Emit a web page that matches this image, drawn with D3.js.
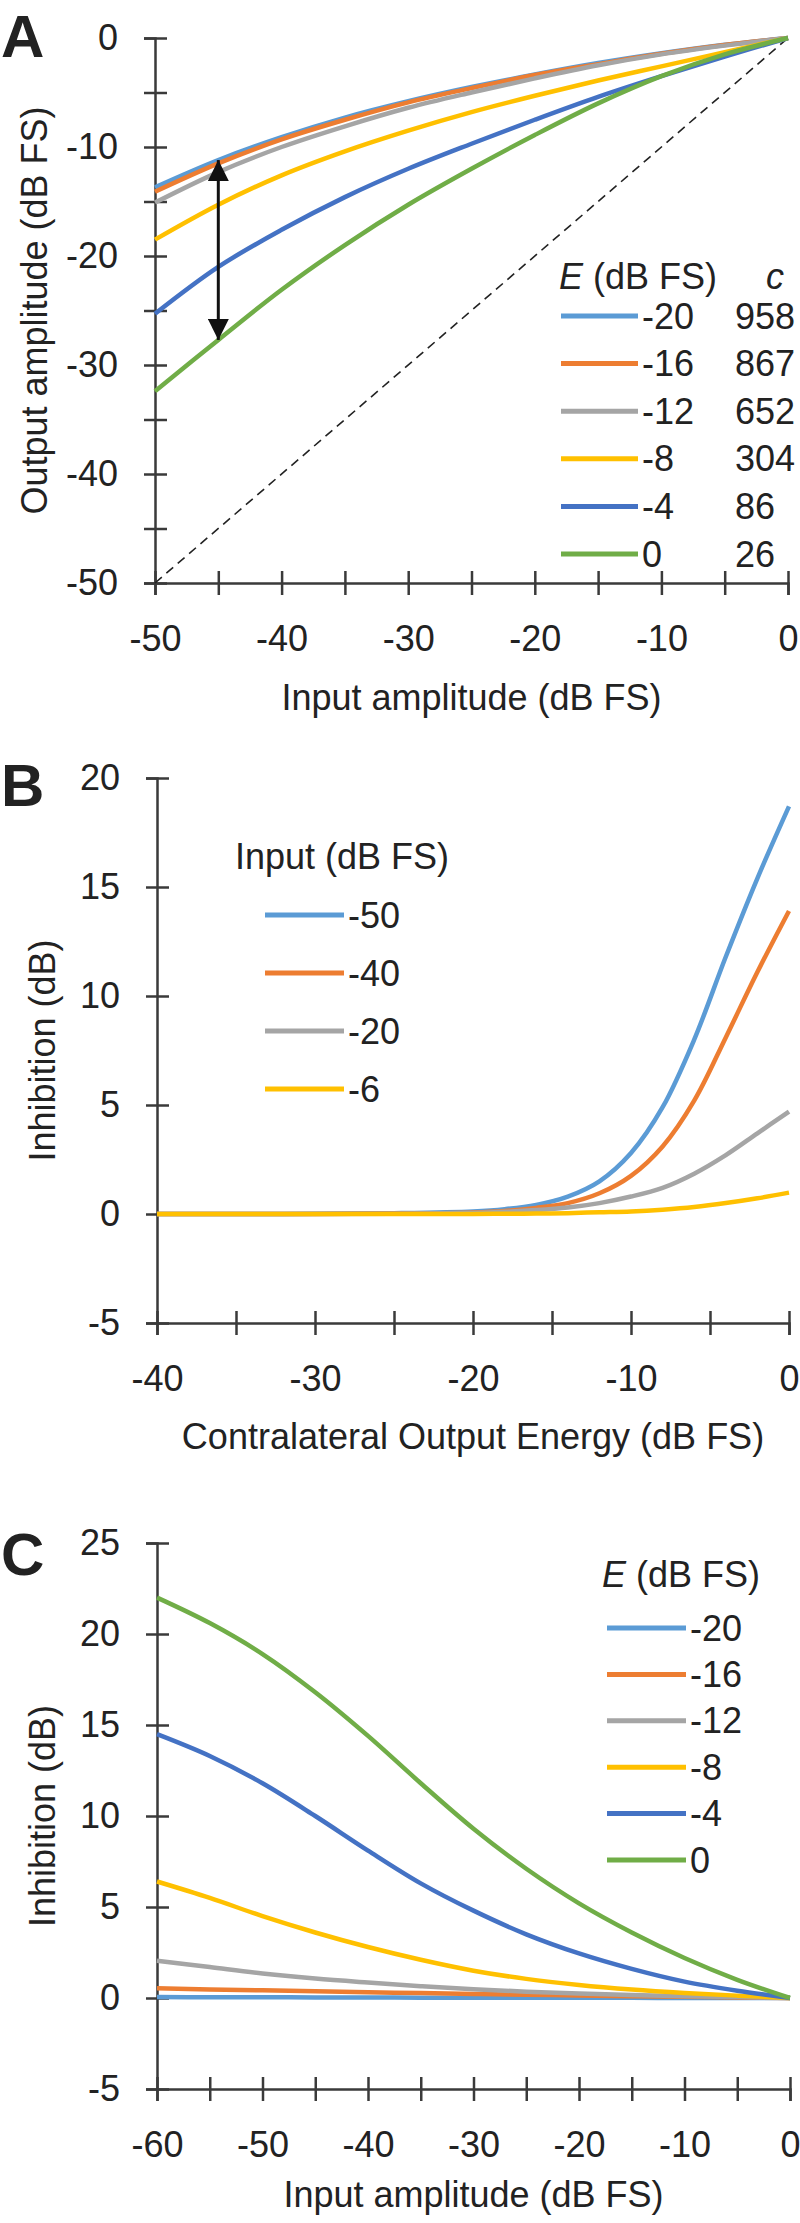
<!DOCTYPE html>
<html>
<head>
<meta charset="utf-8">
<script src="https://cdn.jsdelivr.net/npm/d3@7"></script>
<style>
  html, body { margin: 0; padding: 0; background: #fff; }
  svg { display: block; }
  text { font-family: "Liberation Sans", Arial, sans-serif; fill: #222; }
</style>
</head>
<body>
<svg id="chart" width="800" height="2223"></svg>
<script>
// ---------------- DATA ----------------
const colors = ["#5B9BD5", "#ED7D31", "#A5A5A5", "#FFC000", "#4472C4", "#70AD47"];

// Panel A
const aInput = [-50, -45, -40, -35, -30, -25, -20, -15, -10, -5, 0];
const aE = ["-20", "-16", "-12", "-8", "-4", "0"];
const aC = ["958", "867", "652", "304", "86", "26"];
const aE20 = [-13.7, -11.2, -9.1, -7.3, -5.8, -4.5, -3.35, -2.3, -1.4, -0.62, 0];
const aE16 = [-14.1, -11.5, -9.3, -7.5, -5.9, -4.6, -3.4, -2.4, -1.45, -0.65, 0];
const aE12 = [-15.1, -12.3, -10.0, -8.1, -6.4, -5.0, -3.7, -2.5, -1.5, -0.7, 0];
const aE8  = [-18.5, -15.3, -12.6, -10.4, -8.5, -6.8, -5.3, -3.9, -2.6, -1.3, 0];
const aE4  = [-25.3, -21.0, -17.6, -14.6, -12.0, -9.7, -7.5, -5.4, -3.5, -1.7, 0];
const aE0  = [-32.4, -27.7, -23.1, -19.0, -15.3, -12.0, -8.9, -6.0, -3.5, -1.5, 0];
const aIdentity = [[-50, -50], [0, 0]];
const aArrow = [[-45, -11.2], [-45, -27.7]];
const aXTicks = [-50, -45, -40, -35, -30, -25, -20, -15, -10, -5, 0];
const aYTicks = [0, -5, -10, -15, -20, -25, -30, -35, -40, -45, -50];

// Panel B
const bEnergy = [-40, -35, -30, -25, -20, -18, -16, -14, -12, -10, -8, -6, -4, -2, 0];
const bInputs = ["-50", "-40", "-20", "-6"];
const bIn50 = [0, 0, 0.01, 0.04, 0.12, 0.22, 0.42, 0.8, 1.5, 2.8, 4.9, 8.0, 11.8, 15.4, 18.7];
const bIn40 = [0, 0, 0, 0.02, 0.07, 0.14, 0.28, 0.5, 0.95, 1.75, 3.1, 5.2, 8.1, 11.1, 13.9];
const bIn20 = [0, 0, 0, 0.01, 0.05, 0.1, 0.18, 0.3, 0.5, 0.8, 1.2, 1.85, 2.7, 3.7, 4.7];
const bIn6  = [0, 0, 0, 0, 0, 0.01, 0.02, 0.04, 0.08, 0.12, 0.2, 0.32, 0.5, 0.72, 0.98];
const bXTicks = [-40, -35, -30, -25, -20, -15, -10, -5, 0];
const bYTicks = [20, 15, 10, 5, 0, -5];

// Panel C
const cInput = [-60, -55, -50, -45, -40, -35, -30, -25, -20, -15, -10, -5, 0];
const cE = ["-20", "-16", "-12", "-8", "-4", "0"];
const cE20 = [0.05, 0.04, 0.04, 0.03, 0.03, 0.02, 0.02, 0.01, 0.01, 0.01, 0, 0, 0];
const cE16 = [0.53, 0.47, 0.42, 0.37, 0.32, 0.27, 0.22, 0.18, 0.14, 0.1, 0.07, 0.03, 0];
const cE12 = [2.05, 1.7, 1.35, 1.07, 0.85, 0.65, 0.48, 0.35, 0.25, 0.17, 0.1, 0.05, 0];
const cE8  = [6.4, 5.5, 4.5, 3.6, 2.8, 2.1, 1.5, 1.05, 0.72, 0.47, 0.28, 0.13, 0];
const cE4  = [14.5, 13.3, 11.8, 10.0, 8.1, 6.3, 4.8, 3.5, 2.45, 1.6, 0.9, 0.4, 0];
const cE0  = [22.0, 20.6, 18.9, 16.8, 14.4, 11.8, 9.3, 7.1, 5.2, 3.6, 2.2, 1.0, 0];
const cXTicks = [-60, -55, -50, -45, -40, -35, -30, -25, -20, -15, -10, -5, 0];
const cYTicks = [25, 20, 15, 10, 5, 0, -5];

// ---------------- DRAW ----------------
const svg = d3.select("#chart");
const axisColor = "#3a3a3a";
const fs = 36;

svg.append("defs").append("marker")
  .attr("id", "arrowhead").attr("viewBox", "0 0 10 10")
  .attr("refX", 10).attr("refY", 5)
  .attr("markerWidth", 7.5).attr("markerHeight", 7)
  .attr("markerUnits", "strokeWidth")
  .attr("orient", "auto-start-reverse")
  .append("path").attr("d", "M0,0 L10,5 L0,10 Z").attr("fill", "#111");

function panel(cfg) {
  const g = svg.append("g");
  const x = d3.scaleLinear().domain(cfg.xDomain).range(cfg.xRange);
  const y = d3.scaleLinear().domain(cfg.yDomain).range(cfg.yRange);

  const yAxis = d3.axisLeft(y).tickValues(cfg.yTicks).tickSize(11).tickPadding(26)
    .tickFormat(d => (d % cfg.yLabelStep === 0 ? String(d) : ""));
  const gy = g.append("g").attr("transform", `translate(${cfg.xRange[0]},0)`).call(yAxis);
  const xAxis = d3.axisBottom(x).tickValues(cfg.xTicks).tickSize(12).tickPadding(30)
    .tickFormat(d => (d % cfg.xLabelStep === 0 ? String(d) : ""));
  const gx = g.append("g").attr("transform", `translate(0,${cfg.yRange[0]})`).call(xAxis);

  [gy, gx].forEach(a => {
    a.select(".domain").attr("stroke", axisColor).attr("stroke-width", 2.5);
    a.selectAll(".tick line").attr("stroke", axisColor).attr("stroke-width", 2.5);
    a.selectAll(".tick text").attr("font-size", fs).attr("fill", "#222")
      .attr("font-family", "Liberation Sans, Arial, sans-serif");
  });
  gy.selectAll(".tick line").attr("x1", 12);
  gx.selectAll(".tick line").attr("y1", -12);
  gx.selectAll(".tick text").attr("dy", "0.71em");

  g.append("text").attr("x", (cfg.xRange[0] + cfg.xRange[1]) / 2).attr("y", cfg.xTitleY)
    .attr("text-anchor", "middle").attr("font-size", fs).text(cfg.xTitle);
  g.append("text")
    .attr("transform", `translate(${cfg.yTitleX},${(cfg.yRange[0] + cfg.yRange[1]) / 2}) rotate(-90)`)
    .attr("text-anchor", "middle").attr("dominant-baseline", "central")
    .attr("font-size", fs).text(cfg.yTitle);

  g.append("text").attr("x", 1).attr("y", cfg.letterY).attr("font-size", 60)
    .attr("font-weight", "bold").attr("fill", "#111").text(cfg.letter);

  const plot = g.append("g");
  const line = d3.line().x(d => x(d[0])).y(d => y(d[1])).curve(d3.curveCatmullRom.alpha(0.5));
  cfg.series.forEach((s, i) => {
    plot.append("path").datum(cfg.xs.map((v, j) => [v, s[j]]))
      .attr("fill", "none").attr("stroke", cfg.colors[i]).attr("stroke-width", 4.5)
      .attr("stroke-linejoin", "round").attr("d", line);
  });
  return { g, plot, x, y };
}

// ---- Panel A ----
const A = panel({
  xDomain: [-50, 0], xRange: [155, 788],
  yDomain: [-50, 0], yRange: [583, 38],
  xTicks: aXTicks, yTicks: aYTicks, xLabelStep: 10, yLabelStep: 10,
  xTitle: "Input amplitude (dB FS)", xTitleY: 710,
  yTitle: "Output amplitude (dB FS)", yTitleX: 34,
  letter: "A", letterY: 57,
  xs: aInput, series: [aE20, aE16, aE12, aE8, aE4, aE0], colors: colors
});
A.plot.insert("path", ":first-child")
  .datum(aIdentity)
  .attr("d", d3.line().x(d => A.x(d[0])).y(d => A.y(d[1])))
  .attr("stroke", "#222").attr("stroke-width", 1.6).attr("stroke-dasharray", "9,6").attr("fill", "none");
A.plot.append("path").datum(aArrow)
  .attr("d", d3.line().x(d => A.x(d[0])).y(d => A.y(d[1])))
  .attr("stroke", "#111").attr("stroke-width", 3)
  .attr("marker-start", "url(#arrowhead)").attr("marker-end", "url(#arrowhead)");
const aLeg = A.g.append("g");
const aHead = aLeg.append("text").attr("x", 559).attr("y", 276).attr("dominant-baseline", "central").attr("font-size", fs);
aHead.append("tspan").attr("font-style", "italic").text("E");
aHead.append("tspan").text(" (dB FS)");
aLeg.append("text").attr("x", 766).attr("y", 276).attr("dominant-baseline", "central")
  .attr("font-size", fs).attr("font-style", "italic").text("c");
aE.forEach((lab, i) => {
  const yy = 316 + i * 47.6;
  aLeg.append("line").attr("x1", 561).attr("x2", 638).attr("y1", yy).attr("y2", yy)
    .attr("stroke", colors[i]).attr("stroke-width", 5);
  aLeg.append("text").attr("x", 642).attr("y", yy).attr("dominant-baseline", "central")
    .attr("font-size", fs).text(lab);
  aLeg.append("text").attr("x", 735).attr("y", yy).attr("dominant-baseline", "central")
    .attr("font-size", fs).text(aC[i]);
});

// ---- Panel B ----
const B = panel({
  xDomain: [-40, 0], xRange: [157, 789],
  yDomain: [-5, 20], yRange: [1323, 778],
  xTicks: bXTicks, yTicks: bYTicks, xLabelStep: 10, yLabelStep: 5,
  xTitle: "Contralateral Output Energy (dB FS)", xTitleY: 1449,
  yTitle: "Inhibition (dB)", yTitleX: 42,
  letter: "B", letterY: 806,
  xs: bEnergy, series: [bIn50, bIn40, bIn20, bIn6], colors: colors.slice(0, 4)
});
const bLeg = B.g.append("g");
bLeg.append("text").attr("x", 235).attr("y", 856).attr("dominant-baseline", "central")
  .attr("font-size", fs).text("Input (dB FS)");
bInputs.forEach((lab, i) => {
  const yy = 915 + i * 58;
  bLeg.append("line").attr("x1", 265).attr("x2", 344).attr("y1", yy).attr("y2", yy)
    .attr("stroke", colors[i]).attr("stroke-width", 5);
  bLeg.append("text").attr("x", 348).attr("y", yy).attr("dominant-baseline", "central")
    .attr("font-size", fs).text(lab);
});

// ---- Panel C ----
const C = panel({
  xDomain: [-60, 0], xRange: [157, 790],
  yDomain: [-5, 25], yRange: [2089, 1543],
  xTicks: cXTicks, yTicks: cYTicks, xLabelStep: 10, yLabelStep: 5,
  xTitle: "Input amplitude (dB FS)", xTitleY: 2207,
  yTitle: "Inhibition (dB)", yTitleX: 42,
  letter: "C", letterY: 1575,
  xs: cInput, series: [cE20, cE16, cE12, cE8, cE4, cE0], colors: colors
});
const cLeg = C.g.append("g");
const cHead = cLeg.append("text").attr("x", 602).attr("y", 1574).attr("dominant-baseline", "central").attr("font-size", fs);
cHead.append("tspan").attr("font-style", "italic").text("E");
cHead.append("tspan").text(" (dB FS)");
cE.forEach((lab, i) => {
  const yy = 1628 + i * 46.4;
  cLeg.append("line").attr("x1", 607).attr("x2", 686).attr("y1", yy).attr("y2", yy)
    .attr("stroke", colors[i]).attr("stroke-width", 5);
  cLeg.append("text").attr("x", 690).attr("y", yy).attr("dominant-baseline", "central")
    .attr("font-size", fs).text(lab);
});
</script>
</body>
</html>
